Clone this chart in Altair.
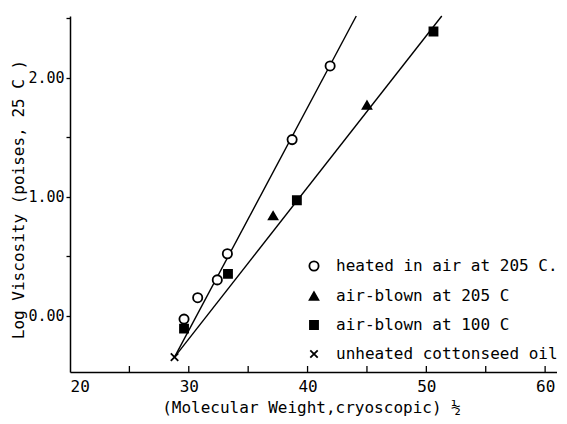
import altair as alt
import pandas as pd

# ---- data ----
series_names = ["heated in air at 205 C.", "air-blown at 205 C",
                "air-blown at 100 C", "unheated cottonseed oil"]

heated_x = [29.6, 30.75, 32.4, 33.25, 38.7, 41.9]
heated_y = [-0.03, 0.15, 0.30, 0.52, 1.48, 2.10]

ab205_x = [37.1, 45.0]
ab205_y = [0.84, 1.77]

ab100_x = [29.6, 33.3, 39.1, 50.6]
ab100_y = [-0.11, 0.35, 0.97, 2.39]

unheated_x = [28.8]
unheated_y = [-0.35]

# fitted lines (start / end points)
line1_x = [28.8, 44.1]
line1_y = [-0.35, 2.52]
line2_x = [28.8, 51.3]
line2_y = [-0.35, 2.52]

x_labels = [20, 30, 40, 50, 60]
x_minor = [25, 30, 35, 40, 45, 50, 55, 60]
y_ticks = [0.0, 0.5, 1.0, 1.5, 2.0, 2.5]

# ---- tables ----
rows = []
for name, xs, ys in zip(series_names,
                        [heated_x, ab205_x, ab100_x, unheated_x],
                        [heated_y, ab205_y, ab100_y, unheated_y]):
    for xv, yv in zip(xs, ys):
        rows.append({"series": name, "mw": xv, "logv": yv})
pts = pd.DataFrame(rows)

lrows = []
for lid, xs, ys in [("a", line1_x, line1_y), ("b", line2_x, line2_y)]:
    for xv, yv in zip(xs, ys):
        lrows.append({"line": lid, "mw": xv, "logv": yv})
lines = pd.DataFrame(lrows)

ticks = pd.DataFrame({"t": x_minor})

W, H = 487, 356
FONT = "DejaVu Sans Mono"

xscale = alt.Scale(domain=[20, 61], nice=False, zero=False)
yscale = alt.Scale(domain=[-0.475, 2.52], nice=False, zero=False)

shape_range = ["circle", "triangle-up", "square", "M-1,-1L1,1M1,-1L-1,1"]
fill_range = ["white", "black", "black", "black"]
stroke_range = ["black", "black", "black", "black"]
size_range = [85, 55, 60, 45]

leg = alt.Legend(orient="none", legendX=236, legendY=242, title=None,
                 labelFont=FONT, labelFontSize=16, labelColor="black",
                 labelLimit=400,
                 rowPadding=13, labelOffset=14, padding=0,
                 symbolStrokeColor="black", symbolStrokeWidth=1.8,
                 symbolOpacity=1)

line_layer = alt.Chart(lines).mark_line(color="black", strokeWidth=1.4).encode(
    x=alt.X("mw:Q", scale=xscale,
            axis=alt.Axis(values=x_labels, tickSize=0, labelPadding=6,
                          title="(Molecular Weight,cryoscopic) \u00bd",
                          titleX=241, titleY=40, titleAnchor="middle",
                          titleBaseline="alphabetic")),
    y=alt.Y("logv:Q", scale=yscale,
            axis=alt.Axis(values=y_ticks, tickSize=4, labelPadding=2,
                          labelFontSize=15,
                          labelExpr="datum.value % 1 == 0 ? format(datum.value, '.2f') : ''",
                          title="Log Viscosity (poises, 25 C )",
                          titleX=-52, titleY=183, titleBaseline="middle")),
    detail="line:N",
)

tick_layer = alt.Chart(ticks).mark_rule(color="black", strokeWidth=1.3).encode(
    x=alt.X("t:Q", scale=xscale),
    y=alt.value(H),
    y2=alt.value(H - 6),
)

pts_layer = alt.Chart(pts).mark_point(
    strokeWidth=1.8, opacity=1, fillOpacity=1, strokeOpacity=1
).encode(
    x=alt.X("mw:Q", scale=xscale),
    y=alt.Y("logv:Q", scale=yscale),
    shape=alt.Shape("series:N", scale=alt.Scale(domain=series_names, range=shape_range), legend=leg),
    fill=alt.Fill("series:N", scale=alt.Scale(domain=series_names, range=fill_range), legend=leg),
    stroke=alt.Stroke("series:N", scale=alt.Scale(domain=series_names, range=stroke_range), legend=leg),
    size=alt.Size("series:N", scale=alt.Scale(domain=series_names, range=size_range), legend=leg),
)

chart = alt.layer(line_layer, tick_layer, pts_layer).properties(
    width=W, height=H,
    padding={"left": 62, "top": 8, "right": 0, "bottom": 44},
    autosize=alt.AutoSizeParams(type="none"),
).configure_view(stroke=None).configure_axis(
    domainColor="black", domainWidth=1.5, tickColor="black", tickWidth=1.3,
    labelColor="black", labelFont=FONT, labelFontSize=16,
    titleColor="black", titleFont=FONT, titleFontSize=16, titleFontWeight="normal",
    grid=False,
)

chart.save("out.html", embed_options={"renderer": "svg", "actions": False})
